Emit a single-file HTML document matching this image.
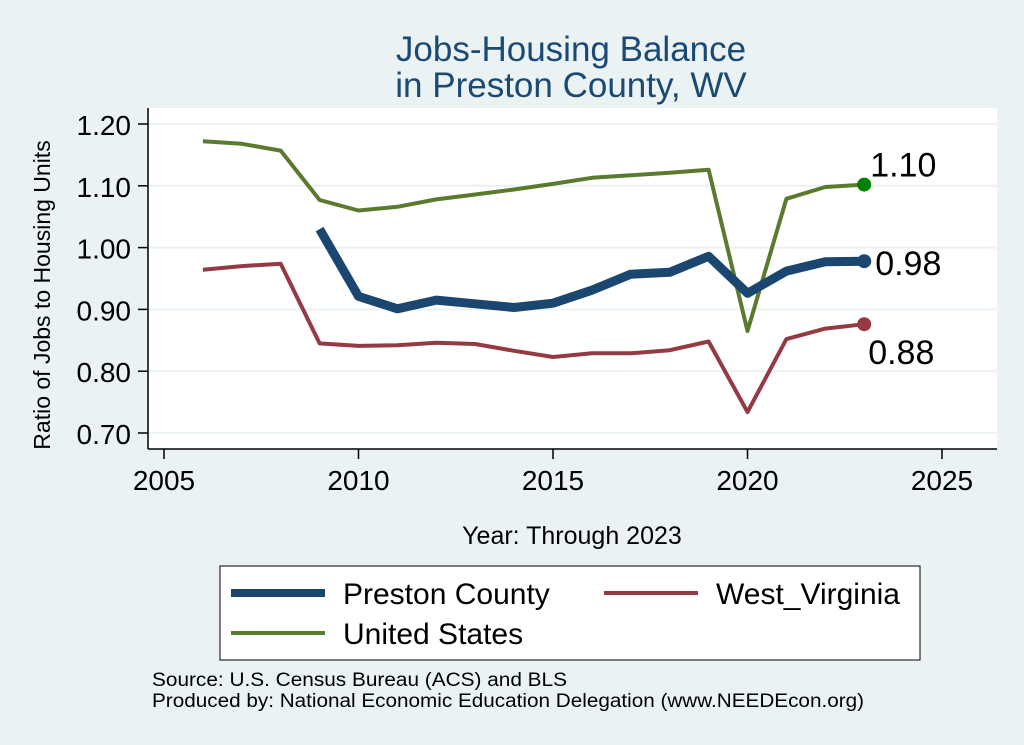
<!DOCTYPE html>
<html><head><meta charset="utf-8"><style>
body{margin:0;background:#eaf2f3;font-family:"Liberation Sans",sans-serif}
svg{display:block}
</style></head><body>
<svg id="chart" width="1024" height="745" xmlns="http://www.w3.org/2000/svg">
<rect width="1024" height="745" fill="#eaf2f3"/>
<text x="571" y="61" font-size="35" fill="#1a4a73" text-anchor="middle">Jobs-Housing Balance</text>
<text x="571" y="97" font-size="35" fill="#1a4a73" text-anchor="middle">in Preston County, WV</text>
<rect x="148" y="108" width="849" height="341" fill="#fff"/>
<g id="grid"></g><g id="axes"></g><g id="series"></g>
<text x="50" y="295" font-size="23" text-anchor="middle" transform="rotate(-90 50 295)">Ratio of Jobs to Housing Units</text>
<text x="572" y="544" font-size="25" text-anchor="middle">Year: Through 2023</text>
<g>
<rect x="220" y="566" width="700" height="94" fill="#fff" stroke="#000" stroke-width="1"/>
<line x1="231" y1="593" x2="325" y2="593" stroke="#1a4670" stroke-width="8"/>
<text x="343" y="604" font-size="30">Preston County</text>
<line x1="604" y1="593" x2="698" y2="593" stroke="#933a42" stroke-width="4"/>
<text x="716" y="604" font-size="30">West_Virginia</text>
<line x1="231" y1="633" x2="325" y2="633" stroke="#5a7a2e" stroke-width="4"/>
<text x="343" y="644" font-size="30">United States</text>
</g>
<text x="152" y="686" font-size="19" textLength="415" lengthAdjust="spacingAndGlyphs">Source: U.S. Census Bureau (ACS) and BLS</text>
<text x="152" y="707" font-size="19" textLength="712" lengthAdjust="spacingAndGlyphs">Produced by: National Economic Education Delegation (www.NEEDEcon.org)</text>
</svg>
<script>
const years=[2006,2007,2008,2009,2010,2011,2012,2013,2014,2015,2016,2017,2018,2019,2020,2021,2022,2023];
const usValues=[1.172,1.168,1.157,1.077,1.060,1.066,1.078,1.086,1.094,1.103,1.113,1.117,1.121,1.126,0.865,1.079,1.098,1.102];
const prestonValues=[null,null,null,1.030,0.921,0.901,0.915,0.909,0.903,0.910,0.931,0.957,0.960,0.986,0.926,0.962,0.977,0.978];
const wvValues=[0.964,0.970,0.974,0.845,0.841,0.842,0.846,0.844,0.833,0.823,0.829,0.829,0.834,0.848,0.734,0.852,0.869,0.876];
const yTicks=[0.70,0.80,0.90,1.00,1.10,1.20];
const xTicks=[2005,2010,2015,2020,2025];
const NS="http://www.w3.org/2000/svg";
const X=v=>164+(v-2005)*(942-164)/20;
const Y=v=>433-(v-0.70)*(433-124)/0.5;
function mk(tag,attrs,parent,text){const e=document.createElementNS(NS,tag);for(const k in attrs)e.setAttribute(k,attrs[k]);if(text!=null)e.textContent=text;document.getElementById(parent).appendChild(e);return e;}
yTicks.forEach(t=>{
 const g=mk('line',{x1:148,x2:997,y1:Y(t),y2:Y(t),stroke:'#eaf2f3','stroke-width':2},'grid');
 
 
 const tk=mk('line',{x1:138,x2:148,y1:Y(t),y2:Y(t),stroke:'#000','stroke-width':1.5},'axes');
 
 
 const l=mk('text',{x:131,y:Y(t)+11,'font-size':28,'text-anchor':'end'},'axes',t.toFixed(2));
 
 
});
xTicks.forEach(t=>{
 const tk=mk('line',{x1:X(t),x2:X(t),y1:449,y2:459,stroke:'#000','stroke-width':1.5},'axes');
 
 
 const l=mk('text',{x:X(t),y:490,'font-size':28,'text-anchor':'middle'},'axes',t);
 
 
});
const ya=mk('line',{x1:148,x2:148,y1:108,y2:449,stroke:'#000','stroke-width':1.5},'axes');


const xa=mk('line',{x1:148,x2:997,y1:449,y2:449,stroke:'#000','stroke-width':1.5},'axes');


function series(vals,color,w,name,dotColor,lx,ly){
 const pts=[];vals.forEach((v,i)=>{if(v!=null)pts.push(X(years[i]).toFixed(1)+','+Y(v).toFixed(1));});
 const p=mk('polyline',{points:pts.join(' '),fill:'none',stroke:color,'stroke-width':w,'stroke-linejoin':'round'},'series');
 
 
 const last=vals[vals.length-1];
 const c=mk('circle',{cx:X(years[years.length-1]),cy:Y(last),r:7,fill:dotColor},'series');
 
 
 const t=mk('text',{x:X(years[years.length-1])+lx,y:Y(last)+ly,'font-size':34},'series',last.toFixed(2));
 
 
}
series(wvValues,'#933a42',4,'west-virginia','#933a42',4,40);
series(usValues,'#5a7a2e',4,'united-states','#008000',6,-8);
series(prestonValues,'#1a4670',9,'preston-county','#1a4670',11,14);
</script>
</body></html>
